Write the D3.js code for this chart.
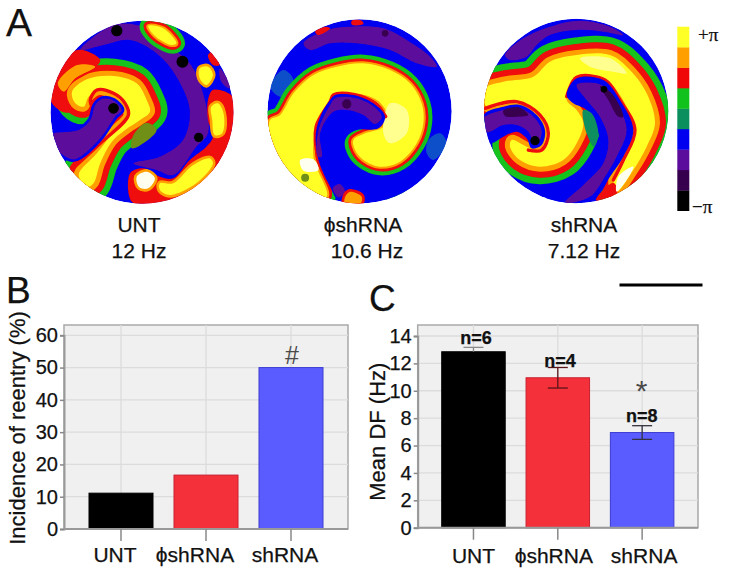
<!DOCTYPE html>
<html><head><meta charset="utf-8">
<script src="https://cdn.jsdelivr.net/npm/d3@7"></script>
<style>
html,body{margin:0;padding:0;background:#fff}
svg{display:block}
text{font-family:"Liberation Sans",Arial,sans-serif;fill:#111;stroke:#111;stroke-width:.25px}
.grey{fill:#4a4a4a;stroke:none}
</style></head><body>
<svg id="fig" width="732" height="574"></svg>
<script>
// ---------- data ----------
const categories = ["UNT", "\u03D5shRNA", "shRNA"];
const reentryValues = [11.1, 16.7, 50];
const reentryTicks = [0, 10, 20, 30, 40, 50, 60];
const dfValues = [12.85, 10.95, 6.95];
const dfErrors = [0.32, 0.75, 0.5];
const dfCounts = ["n=6", "n=4", "n=8"];
const dfTicks = [0, 2, 4, 6, 8, 10, 12, 14];
const mapNames = ["UNT", "\u03D5shRNA", "shRNA"];
const mapRates = ["12 Hz", "10.6 Hz", "7.12 Hz"];
// colour-bar phase levels, black (-pi) to yellow (+pi)
const phaseLevels = [0, 1, 2, 3, 4, 5, 6, 7, 8];
const phaseColors = ["#000000", "#37004f", "#5c0c9c", "#0000f0", "#0b8f5e", "#12c21c", "#f00808", "#ffa000", "#ffff28", "#fffff0", "#6f8f12", "#ffff90", "#1050c8"];

// Phase-map regions, in the units of each map's own trace box.
const map1Regions = [
  {k:"plain", l:2, p:[240,150,340,75,430,80,510,140,570,190,610,280,625,400,590,440,520,525,470,510,400,490,480,470,550,420,570,330,530,230,470,160,390,120,310,135]},
  {k:"arm", l:8, p:[215,275,260,238,340,228,410,250,440,300,450,335,420,360,375,390,335,425,300,490,280,550,262,560,235,525,290,460,340,395,385,345,360,300,300,270,265,290,250,320,225,310]},
  {k:"plain", l:10, p:[400,405,440,368,470,390,430,430,395,445]},
  {k:"plain", l:6, p:[150,300,165,230,230,150,300,180,270,215,215,250,195,290,215,335,185,335]},
  {k:"plain", l:7, p:[172,250,230,195,285,200,225,235,190,275]},
  {k:"edge", l:6, p:[212,510,300,430,385,345,375,310,340,280,290,270,270,300,275,320]},
  {k:"lobe", l:2, p:[285,315,305,297,340,302,365,330,345,350,300,415,240,470,215,478,160,440,150,405,235,390,270,360]},
  {k:"plain", l:6, p:[625,300,640,270,700,290,705,360,680,460,630,530,560,590,450,612,395,605,390,520,430,505,480,530,520,535,570,480,620,440,640,410,625,360]},
  {k:"hot", l:8, p:[635,320,655,310,672,340,668,400,645,405,638,360]},
  {k:"hot", l:8, p:[630,475,640,490,590,550,510,585,480,570,480,550,520,550,580,495]},
  {k:"hot", l:9, p:[410,530,440,515,465,535,445,565,418,562]},
  {k:"armThin", l:8, p:[445,78,490,85,530,130,515,135,465,108]},
  {k:"hot", l:8, p:[600,205,625,200,640,225,620,255,600,235]},
  {k:"plain", l:6, p:[625,165,640,155,660,195,640,195]},
  {k:"plain", l:2, p:[660,205,690,250,690,265,665,245]}
];
const map1Spots = [[350,92,17],[548,185,18],[597,412,14],[340,325,16]];

const map2Regions = [
  {k:"plain", l:2, p:[160,130,230,90,300,80,400,85,470,120,540,170,560,200,500,190,420,150,320,130,240,130,180,150]},
  {k:"plain", l:12, p:[60,260,100,210,130,240,110,280,90,290]},
  {k:"plain", l:12, p:[535,420,570,400,590,430,550,480,530,460]},
  {k:"armThin", l:8, p:[60,360,90,345,130,280,190,225,260,200,340,190,420,210,480,250,515,310,520,370,500,430,450,485,390,500,340,480,315,450,310,420,345,400,400,380,410,340,380,300,300,280,240,300,200,380,190,470,230,590,160,580,90,500,55,420]},
  {k:"plain", l:11, p:[420,310,470,330,470,400,420,430,400,400]},
  {k:"plain", l:9, p:[150,480,190,478,205,510,160,512]},
  {k:"plain", l:5, p:[410,592,500,560,560,510,585,500,520,600,420,625]},
  {k:"plain", l:3, p:[400,575,490,545,550,495,570,490,510,585,410,600]},
  {k:"edge", l:6, p:[245,570,205,480,198,380,240,305,250,285,310,283,375,310,407,350]},
  {k:"plain", l:3, p:[240,300,255,285,310,285,370,310,405,350,385,385,320,390,290,410,282,450,300,495,340,530,320,600,265,600,240,560,205,480,197,400,215,340]},
  {k:"plain", l:2, p:[240,315,255,295,310,293,365,315,395,350,375,372,340,345,290,330,250,335,210,400,215,470,203,470,205,390]},
  {k:"plain", l:2, p:[248,565,268,552,285,575,265,592]},
  {k:"blob", l:7, p:[285,590,300,575,335,590,330,612,285,612]},
  {k:"plain", l:6, p:[195,95,225,80,240,85,205,105]},
  {k:"plain", l:6, p:[305,62,335,62,340,72,305,74]}
];
const map2Spots = [[405,100,10],[290,312,14],[165,533,12]];

const map3Regions = [
  {k:"plain", l:2, p:[105,165,160,115,240,80,330,62,420,80,460,105,400,95,320,90,240,105,200,135,170,170,120,180]},
  {k:"arm", l:8, p:[45,265,100,245,190,230,240,185,320,165,420,165,480,210,530,280,555,370,530,440,490,510,440,575,430,540,470,470,495,390,470,320,420,250,360,225,300,260,290,300,320,330,340,370,320,430,280,480,210,500,150,480,120,440,125,420,170,440,210,450,230,380,200,330,130,310,50,320]},
  {k:"plain", l:11, p:[330,175,420,175,470,220,430,215,360,200]},
  {k:"edge", l:6, p:[290,290,320,232,405,240,450,300,495,390,460,480,430,540]},
  {k:"plain", l:3, p:[290,285,320,235,400,240,450,300,490,390,460,470,420,530,380,590,290,612,225,600,280,565,340,540,390,470,385,400,350,330,310,310]},
  {k:"plain", l:4, p:[340,330,365,340,385,400,372,440,350,400]},
  {k:"plain", l:2, p:[320,255,395,255,440,310,470,390,440,470,405,530,360,590,285,608,340,555,400,490,415,420,390,350,350,300]},
  {k:"plain", l:1, p:[390,258,425,280,460,350,445,350,415,300]},
  {k:"plain", l:6, p:[378,600,430,548,442,578,400,605]},
  {k:"plain", l:9, p:[445,530,490,500,470,540,440,575]},
  {k:"edge", l:6, p:[45,325,140,305,210,345,235,400,215,450,175,450]},
  {k:"plain", l:3, p:[40,345,100,320,150,315,200,345,225,390,215,435,185,445,170,415,140,395,100,410,65,430,40,430]},
  {k:"plain", l:2, p:[40,355,100,330,150,325,195,355,215,395,205,425,190,425,175,395,140,375,100,375,60,395,40,395]},
  {k:"plain", l:1, p:[100,332,145,322,175,345,140,350,105,348]}
];
const map3Spots = [[195,422,14],[402,268,10]];

const mapTraces = [
  {regions: map1Regions, spots: map1Spots, box: [150,702,62,612]},
  {regions: map2Regions, spots: map2Spots, box: [52,605,60,608]},
  {regions: map3Regions, spots: map3Spots, box: [42,595,58,608]}
];

// ---------- layout ----------
const svg = d3.select("#fig");
const FONT = 21;
const text = (s, x, y, o = {}) => svg.append("text").attr("x", x).attr("y", y)
  .attr("text-anchor", o.anchor || "middle").attr("font-size", o.size || FONT)
  .attr("font-weight", o.weight || "normal").attr("class", o.cls || null)
  .attr("transform", o.rotate ? `rotate(${o.rotate} ${x} ${y})` : null).text(s);
const colorOf = l => phaseColors[l];

const defs = svg.append("defs");
defs.append("filter").attr("id", "soft").attr("x", "-5%").attr("y", "-5%").attr("width", "110%").attr("height", "110%")
  .append("feGaussianBlur").attr("stdDeviation", 0.7);

// ring stacks, outermost first: [phase level, stroke width in trace units]
const ringStyles = {
  plain: [],
  arm: [[5, 105], [6, 66], [7, 30]],
  armThin: [[5, 52], [6, 28], [7, 12]],
  hot: [[7, 16]],
  blob: [[6, 16]],
  lobe: [[3, 16]]
};
const mapBoxes = [
  {x: [50.5, 233.5], y: [20.7, 204]},
  {x: [267.5, 451.7], y: [20, 202.7]},
  {x: [484, 668.3], y: [19.3, 202.7]}
];

mapTraces.forEach((t, i) => {
  const b = mapBoxes[i];
  const sx = d3.scaleLinear().domain(t.box.slice(0, 2)).range(b.x);
  const sy = d3.scaleLinear().domain(t.box.slice(2, 4)).range(b.y);
  const k = (b.x[1] - b.x[0]) / (t.box[1] - t.box[0]);
  const cx = (b.x[0] + b.x[1]) / 2, cy = (b.y[0] + b.y[1]) / 2, r = (b.x[1] - b.x[0]) / 2;
  defs.append("clipPath").attr("id", "disc" + i).append("circle").attr("cx", cx).attr("cy", cy).attr("r", r);
  const outer = svg.append("g").attr("filter", "url(#soft)");
  const g = outer.append("g").attr("clip-path", `url(#disc${i})`);
  g.append("circle").attr("cx", cx).attr("cy", cy).attr("r", r).attr("fill", colorOf(3));
  const closed = d3.line().x(d => sx(d[0])).y(d => sy(d[1])).curve(d3.curveCatmullRomClosed.alpha(0.5));
  const open = d3.line().x(d => sx(d[0])).y(d => sy(d[1])).curve(d3.curveCatmullRom.alpha(0.5));
  t.regions.forEach(reg => {
    const pts = d3.pairs(reg.p).filter((_, j) => j % 2 === 0);
    if (reg.k === "edge") {
      g.append("path").attr("d", open(pts)).attr("fill", "none").attr("stroke", colorOf(reg.l))
        .attr("stroke-width", 10 * k).attr("stroke-linejoin", "round").attr("stroke-linecap", "round");
      return;
    }
    ringStyles[reg.k].forEach(([l, w]) => {
      g.append("path").attr("d", closed(pts)).attr("fill", colorOf(l)).attr("stroke", colorOf(l))
        .attr("stroke-width", w * k).attr("stroke-linejoin", "round");
    });
    g.append("path").attr("d", closed(pts)).attr("fill", colorOf(reg.l));
  });
  g.selectAll("circle.spot").data(t.spots).join("circle").attr("class", "spot")
    .attr("cx", d => sx(d[0])).attr("cy", d => sy(d[1])).attr("r", d => d[2] * k)
    .attr("fill", (d, j) => (i === 1 && j === 2) ? colorOf(10) : colorOf(i === 1 ? 1 : 0));
});

// map captions
const nameX = [139, 363, 584], rateX = [139, 367, 584];
mapNames.forEach((n, i) => {
  text(n, nameX[i], 232);
  text(mapRates[i], rateX[i], 258);
});

// colour bar
const barY = d3.scaleBand().domain(phaseLevels.slice().reverse()).range([26.7, 210.7]);
svg.selectAll("rect.phase").data(phaseLevels).join("rect").attr("class", "phase")
  .attr("x", 677.3).attr("width", 12).attr("y", d => barY(d)).attr("height", barY.bandwidth() + 0.3)
  .attr("fill", d => colorOf(d));
const piLabel = (s, x, y) => svg.append("text").attr("x", x).attr("y", y)
  .style("font-family", '"Liberation Serif",serif').attr("font-size", 19).text(s);
piLabel("+\u03C0", 698, 41);
piLabel("\u2212\u03C0", 692, 213);

// panel letters & scale bar
text("A", 6, 36, {anchor: "start", size: 39});
text("B", 6, 303, {anchor: "start", size: 37});
text("C", 369, 311, {anchor: "start", size: 37});
svg.append("line").attr("x1", 619.5).attr("x2", 702.5).attr("y1", 285).attr("y2", 285).attr("stroke", "#000").attr("stroke-width", 3);

// bar charts
const barFill = ["#000000", "#f4303a", "#5a5cff"];
const barEdge = ["#000000", "#c82030", "#3c3cd0"];

function barChart(cfg) {
  const g = svg.append("g");
  const y = d3.scaleLinear().domain([0, d3.max(cfg.ticks)]).range(cfg.yRange);
  const x = d3.scaleBand().domain(categories).range(cfg.xRange).paddingInner(0.247).paddingOuter(0.1235);
  const fr = cfg.frame;
  g.append("rect").attr("x", fr.l).attr("y", fr.t).attr("width", fr.r - fr.l).attr("height", fr.b - fr.t)
    .attr("fill", "#f0f0f0").attr("stroke", "#a9a9a9").attr("stroke-width", 1.5);
  g.selectAll("line.h").data(cfg.ticks.slice(1)).join("line").attr("class", "h")
    .attr("x1", fr.l).attr("x2", fr.r).attr("y1", d => y(d)).attr("y2", d => y(d)).attr("stroke", "#dcdcdc").attr("stroke-width", 1.3);
  g.selectAll("line.v").data(categories).join("line").attr("class", "v")
    .attr("x1", d => x(d) + x.bandwidth() / 2).attr("x2", d => x(d) + x.bandwidth() / 2)
    .attr("y1", fr.t).attr("y2", fr.b).attr("stroke", "#dcdcdc").attr("stroke-width", 1.3);
  g.selectAll("rect.bar").data(cfg.values).join("rect").attr("class", "bar")
    .attr("x", (d, i) => x(categories[i])).attr("width", x.bandwidth())
    .attr("y", d => y(d)).attr("height", d => y(0) - y(d))
    .attr("fill", (d, i) => barFill[i]).attr("stroke", (d, i) => barEdge[i]).attr("stroke-width", 1);

  const ya = g.append("g").attr("transform", `translate(${fr.l},0)`)
    .call(d3.axisLeft(y).tickValues(cfg.ticks).tickSize(4).tickPadding(2));
  ya.select(".domain").attr("stroke", "#999").attr("stroke-width", 2);
  ya.selectAll("line").attr("stroke", "#888").attr("stroke-width", 1.5);
  ya.selectAll("text").attr("font-size", 20).attr("fill", "#111").style("font-family", '"Liberation Sans",Arial,sans-serif');

  const xa = g.append("g").attr("transform", `translate(0,${fr.b})`)
    .call(d3.axisBottom(x).tickSize(12).tickPadding(9));
  xa.select(".domain").attr("d", `M${fr.l},0H${fr.r}`).attr("stroke", "#999").attr("stroke-width", 2);
  xa.selectAll("line").attr("stroke", "#888").attr("stroke-width", 1.5);
  xa.selectAll("text").attr("font-size", FONT).attr("fill", "#111").attr("dy", null).attr("y", null)
    .style("font-family", '"Liberation Sans",Arial,sans-serif')
    .attr("transform", (d, i) => `translate(${cfg.labelShift[i]},${cfg.labelY - fr.b})`);
  return {x, y};
}

const b = barChart({
  values: reentryValues, ticks: reentryTicks, yRange: [529, 335.3], xRange: [78.5, 333.5],
  frame: {l: 64, r: 348, t: 325, b: 529}, labelShift: [-6, -11, -6], labelY: 562
});
text("Incidence of reentry (%)", 25, 428, {rotate: -90, size: 22});
text("#", 292, 364, {size: 25, cls: "grey"});

const c = barChart({
  values: dfValues, ticks: dfTicks, yRange: [527.7, 336], xRange: [431.3, 684.3],
  frame: {l: 417.7, r: 698, t: 325, b: 527.7}, labelShift: [0, -4, 2], labelY: 562.5
});
text("Mean DF (Hz)", 385, 431.7, {rotate: -90, size: 22});

// error bars
const errStroke = ["#8a8a8a", "#5a1418", "#33333f"];
dfValues.forEach((v, i) => {
  const cxp = c.x(categories[i]) + c.x.bandwidth() / 2;
  const hi = c.y(v + dfErrors[i]), lo = c.y(v - dfErrors[i]);
  const e = svg.append("g").attr("stroke", errStroke[i]).attr("stroke-width", 1.3);
  e.append("line").attr("x1", cxp).attr("x2", cxp).attr("y1", hi).attr("y2", i === 0 ? c.y(v) : lo);
  e.append("line").attr("x1", cxp - 10).attr("x2", cxp + 10).attr("y1", hi).attr("y2", hi);
  if (i > 0) e.append("line").attr("x1", cxp - 10).attr("x2", cxp + 10).attr("y1", lo).attr("y2", lo);
});
const countX = [476, 560, 641.7], countY = [344, 366.7, 421.7];
dfCounts.forEach((n, i) => text(n, countX[i], countY[i], {size: 18, weight: "bold"}));
text("*", 641.7, 401, {size: 30, cls: "grey"});
</script>
</body></html>
